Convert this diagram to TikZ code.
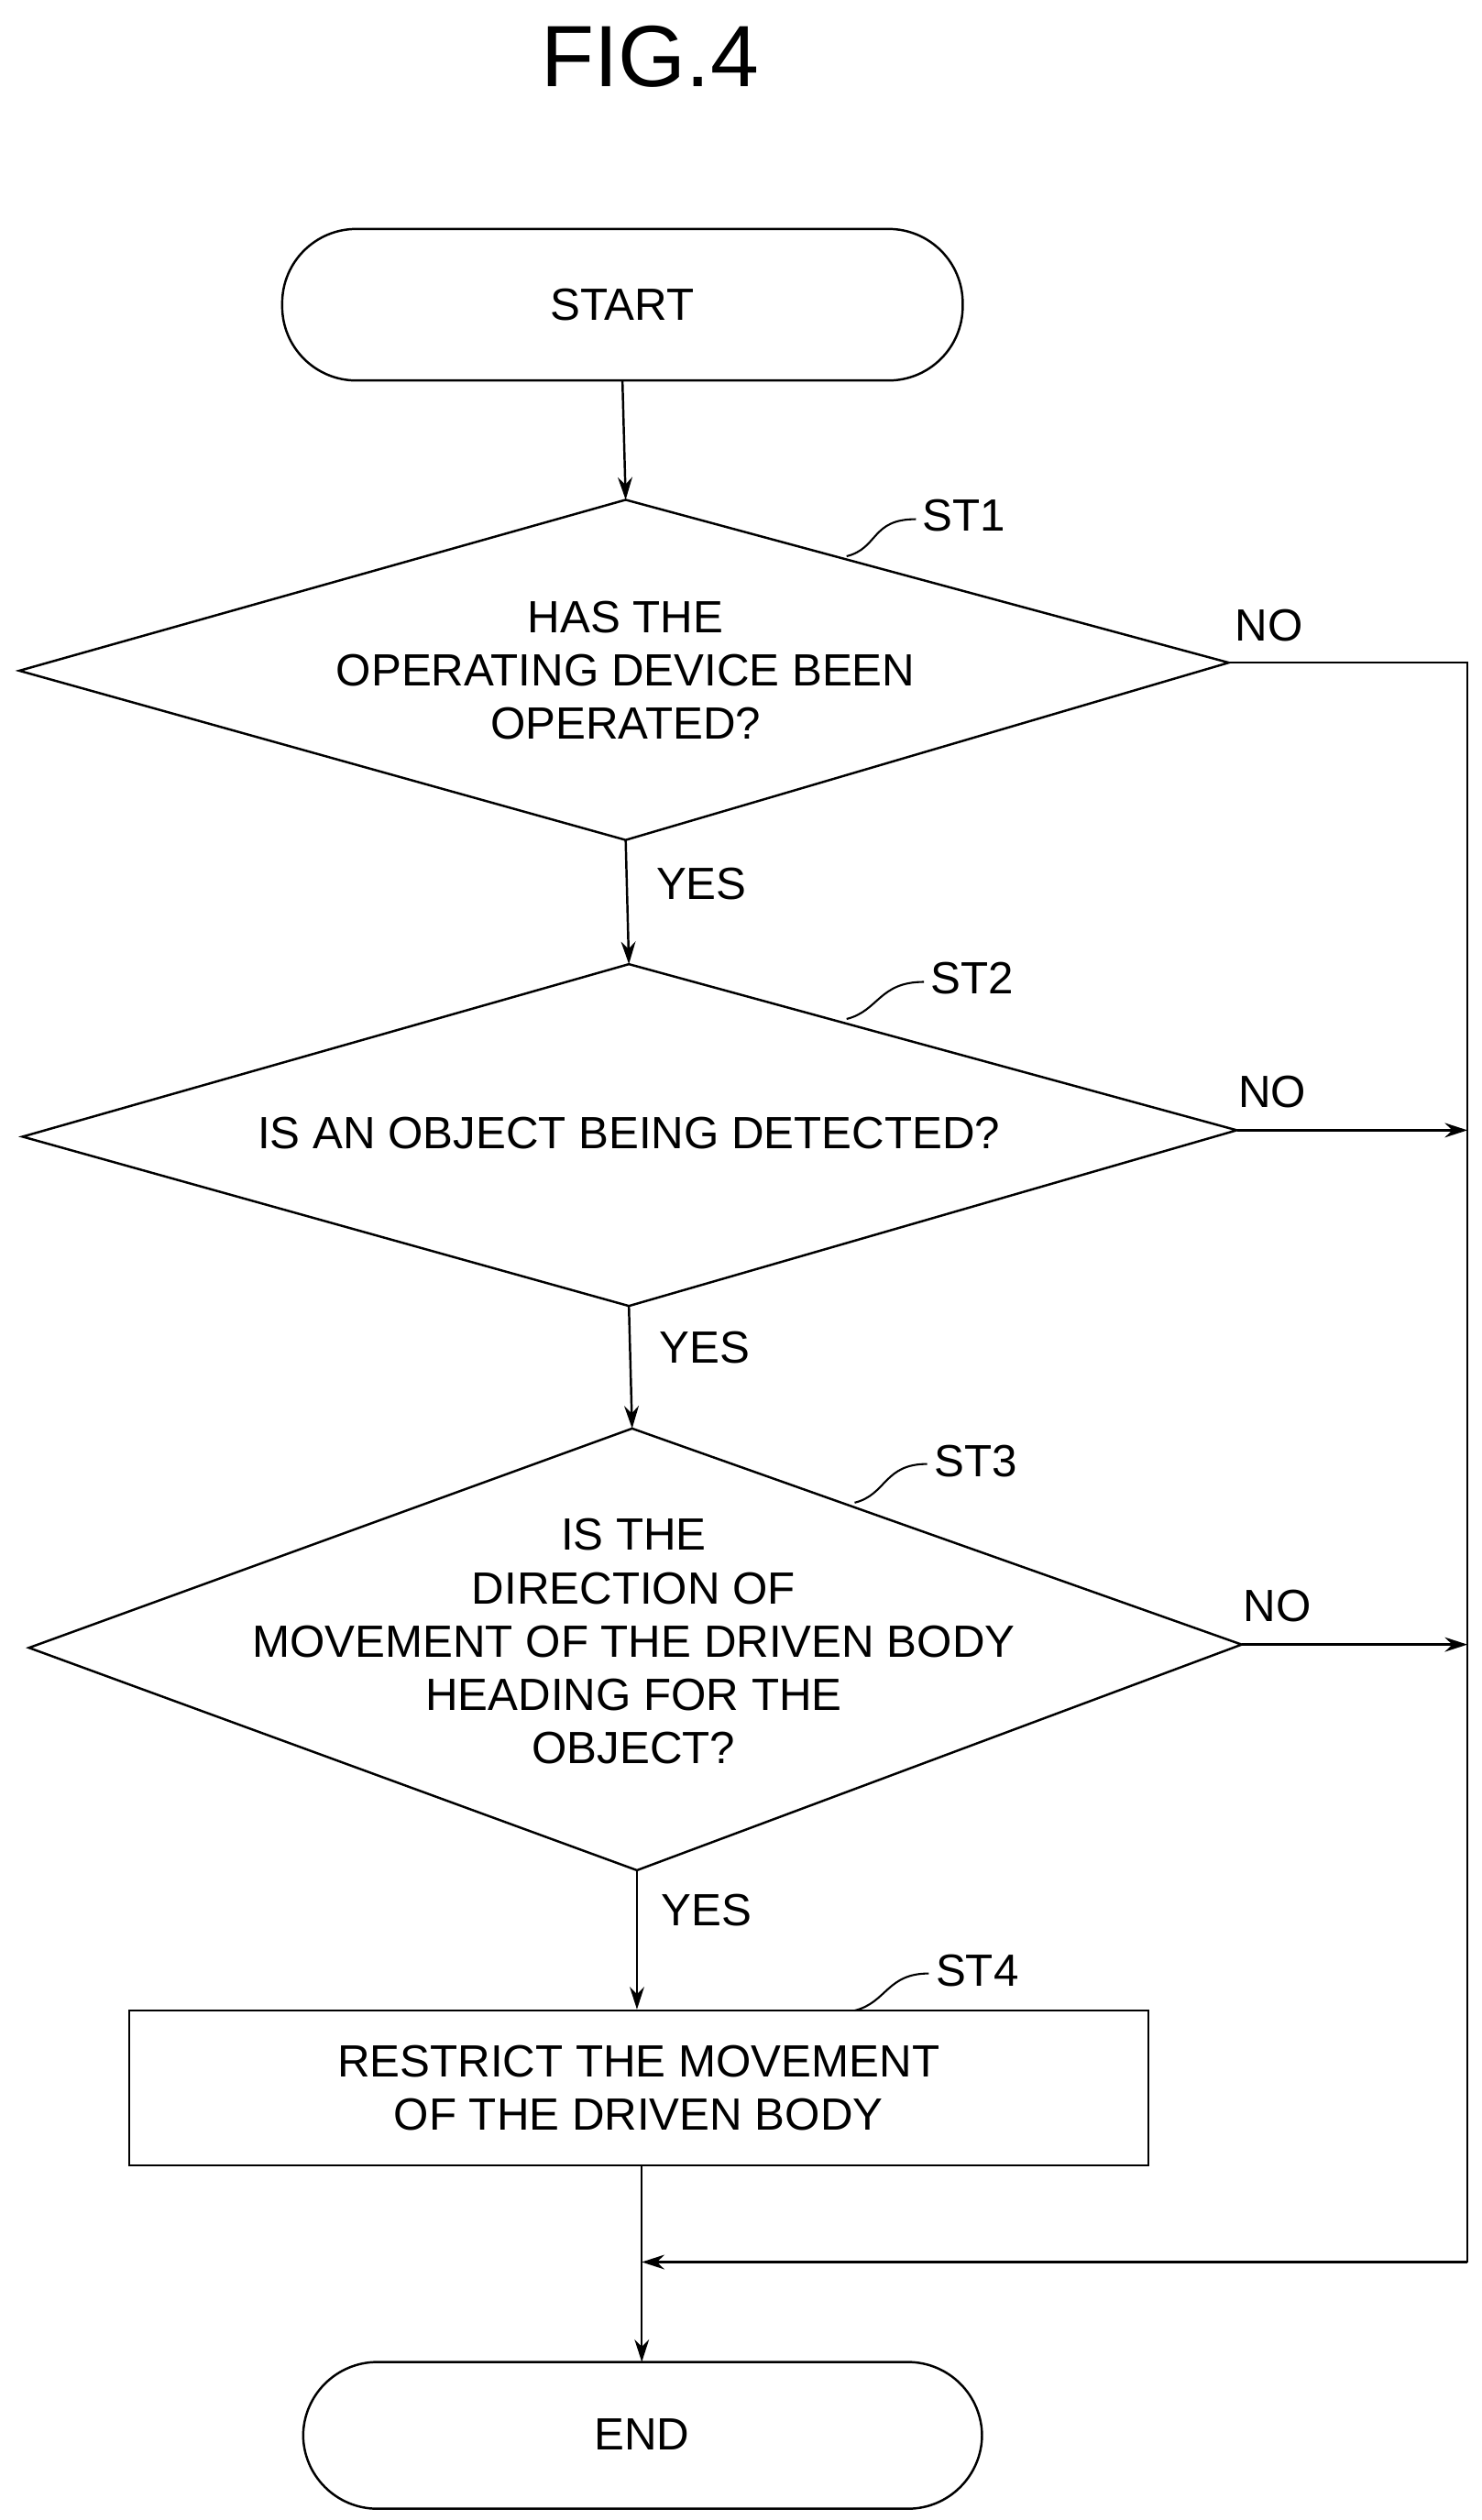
\documentclass[tikz,border=0pt]{standalone}
\usepackage{fontspec}
\setmainfont{Liberation Sans}
\usetikzlibrary{arrows.meta}
\begin{document}
\begin{tikzpicture}[x=1pt,y=-1pt,
  line/.style={line width=1.4pt},
  arr/.style={line, -{Stealth[length=14pt,width=9pt]}},
  txt/.style={font=\fontsize{28}{33}\selectfont, align=center, inner sep=0pt},
  term/.style={line, rounded corners=46pt},
  lead/.style={line width=1.2pt}]
\useasboundingbox (0,0) rectangle (919,1563);
\node[font=\fontsize{54}{60}\selectfont] (fig) at (403,35) {FIG.4};
% START
\draw[term] (175,142) rectangle (597,236);
\node[txt] (start) at (386,189) {START};
\coordinate (sb) at (386,236);
% D1
\coordinate (d1t) at (388,310); \coordinate (d1l) at (12,416);
\coordinate (d1r) at (762,411); \coordinate (d1b) at (388,521);
\draw[line] (d1t)--(d1r)--(d1b)--(d1l)--cycle;
\node[txt] (q1) at (388,416) {HAS THE\\OPERATING DEVICE BEEN\\OPERATED?};
\node[txt] (st1) at (598,320) {ST1};
\draw[lead] (525,345) .. controls (545,340) and (540,322) .. (568,322);
% D2
\coordinate (d2t) at (390,598); \coordinate (d2l) at (14,705);
\coordinate (d2r) at (767,701); \coordinate (d2b) at (390,810);
\draw[line] (d2t)--(d2r)--(d2b)--(d2l)--cycle;
\node[txt] (q2) at (390,703) {IS AN OBJECT BEING DETECTED?};
\node[txt] (st2) at (603,607) {ST2};
\draw[lead] (525,632) .. controls (545,627) and (545,609) .. (573,609);
% D3
\coordinate (d3t) at (392,886); \coordinate (d3l) at (18,1022);
\coordinate (d3r) at (770,1020); \coordinate (d3b) at (395,1160);
\draw[line] (d3t)--(d3r)--(d3b)--(d3l)--cycle;
\node[txt] (q3) at (393,1018) {IS THE\\DIRECTION OF\\MOVEMENT OF THE DRIVEN BODY\\HEADING FOR THE\\OBJECT?};
\node[txt] (st3) at (605,906) {ST3};
\draw[lead] (530,932) .. controls (550,927) and (548,908) .. (575,908);
% ST4
\node[line, draw, minimum width=632pt, minimum height=96pt, txt] (box) at (396,1295) {RESTRICT THE MOVEMENT\\OF THE DRIVEN BODY};
\node[txt] (st4) at (606,1222) {ST4};
\draw[lead] (530,1247) .. controls (550,1242) and (550,1224) .. (576,1224);
% END
\draw[term] (188,1465) rectangle (609,1556);
\node[txt] (end) at (398,1510) {END};
% connectors
\draw[arr] (sb) -- (d1t);
\draw[arr] (d1b) -- (d2t);
\draw[arr] (d2b) -- (d3t);
\draw[arr] (d3b) -- (box.north -| d3b);
\coordinate (rt) at (910,411);
\coordinate (rb) at (910,1403);
\coordinate (mg) at (398,1403);
\coordinate (et) at (398,1465);
\draw[line] (d1r) -- (rt) -- (rb);
\draw[arr] (rb) -- (mg);
\draw[arr] (d2r) -- (d2r -| rt);
\draw[arr] (d3r) -- (d3r -| rt);
\draw[arr] (box.south -| et) -- (et);
% labels
\node[txt] (no1) at (787,388) {NO};
\node[txt] (no2) at (789,677) {NO};
\node[txt] (no3) at (792,996) {NO};
\node[txt] (y1) at (435,548) {YES};
\node[txt] (y2) at (437,836) {YES};
\node[txt] (y3) at (438,1185) {YES};
\end{tikzpicture}
\end{document}
